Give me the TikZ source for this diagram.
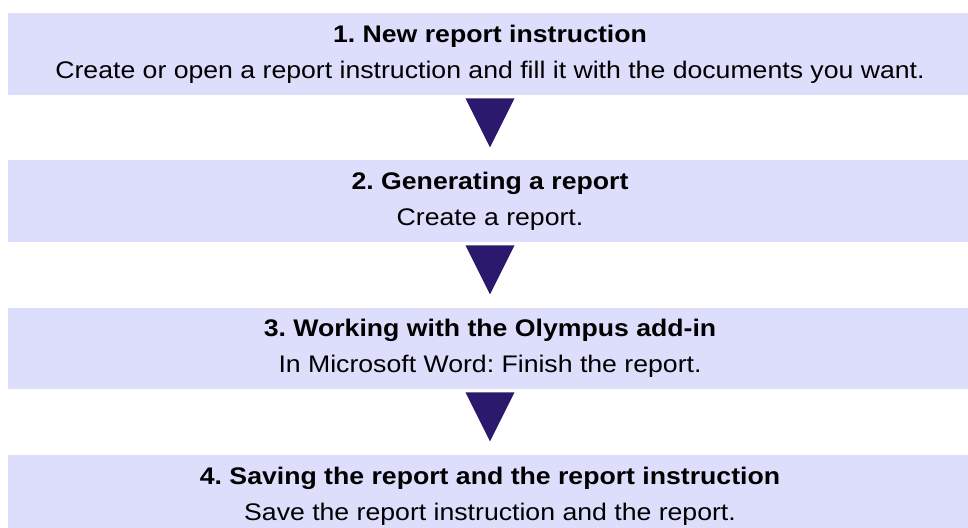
\documentclass[tikz,border=0pt]{standalone}
\usepackage{fontspec}
\setmainfont[FakeStretch=1.11]{Liberation Sans}
\usepackage{xcolor}
\usepackage{tikz}
\usetikzlibrary{calc,positioning}

\definecolor{bandfill}{RGB}{221,221,252}
\definecolor{tricolor}{RGB}{43,25,110}

\begin{document}
\frenchspacing
\begin{tikzpicture}[x=0.5pt,y=-0.5pt,
		stepbox/.style={fill=bandfill,draw=none,minimum width=482pt,align=center,
			font=\fontsize{12}{18}\selectfont,inner sep=0pt},
		downtri/.style={fill=tricolor}]
			\def\hw{24.5}
			\def\gap{3}
			\def\tip{52}
			
			\useasboundingbox (0,0) rectangle (968,527);
			
			\node[stepbox,minimum height=41pt] (s1) at (490,54)
				{\textbf{1. New report instruction}\\Create or open a report instruction and fill it with the documents you want.};
			\node[stepbox,minimum height=41pt] (s2) at (490,201)
				{\textbf{2. Generating a report}\\Create a report.};
			\node[stepbox,minimum height=40.5pt] (s3) at (490,348.5)
				{\textbf{3. Working with the Olympus add-in}\\In Microsoft Word: Finish the report.};
			\node[stepbox,minimum height=41pt] (s4) at (490,496)
				{\textbf{4. Saving the report and the report instruction}\\Save the report instruction and the report.};
			
			\foreach \i in {1,2,3}
				\fill[downtri] ($(s\i.south)+(-\hw,\gap)$) -- ($(s\i.south)+(\hw,\gap)$)
					-- ($(s\i.south)+(0,\tip)$) -- cycle;
		\end{tikzpicture}
\end{document}
